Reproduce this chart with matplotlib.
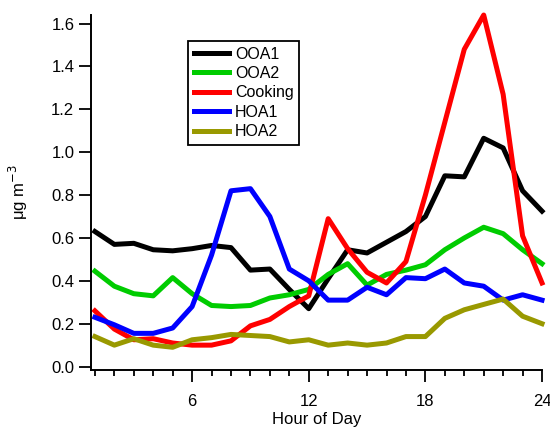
import numpy as np
import matplotlib.pyplot as plt
from matplotlib.ticker import MultipleLocator

plt.rcParams['font.family'] = ['Liberation Sans', 'DejaVu Sans']

hours = np.arange(1, 25)
ooa1 = [0.63, 0.57, 0.575, 0.545, 0.54, 0.55, 0.565, 0.555, 0.45, 0.455, 0.36, 0.27,
        0.41, 0.545, 0.53, 0.58, 0.63, 0.70, 0.89, 0.885, 1.065, 1.02, 0.82, 0.725]
ooa2 = [0.445, 0.375, 0.34, 0.33, 0.415, 0.34, 0.285, 0.28, 0.285, 0.32, 0.335, 0.36,
        0.43, 0.48, 0.38, 0.43, 0.45, 0.475, 0.545, 0.60, 0.65, 0.62, 0.545, 0.48]
cooking = [0.26, 0.175, 0.125, 0.13, 0.11, 0.10, 0.10, 0.12, 0.19, 0.22, 0.28, 0.33,
           0.69, 0.55, 0.44, 0.39, 0.49, 0.80, 1.14, 1.48, 1.64, 1.27, 0.61, 0.39]
hoa1 = [0.23, 0.195, 0.155, 0.155, 0.18, 0.28, 0.52, 0.82, 0.83, 0.70, 0.455, 0.40,
        0.31, 0.31, 0.37, 0.335, 0.415, 0.41, 0.455, 0.39, 0.375, 0.31, 0.335, 0.31]
hoa2 = [0.14, 0.10, 0.13, 0.10, 0.09, 0.125, 0.135, 0.15, 0.145, 0.14, 0.115, 0.125,
        0.10, 0.11, 0.10, 0.11, 0.14, 0.14, 0.225, 0.265, 0.29, 0.315, 0.235, 0.20]

names = ["OOA1", "OOA2", "Cooking", "HOA1", "HOA2"]
colors = ["black", "#00cc00", "red", "blue", "#999900"]

fig = plt.figure(figsize=(5.5, 4.29), dpi=100)
ax = fig.add_axes([0.1655, 0.138, 0.82, 0.827])

for y, n, c in zip([ooa1, ooa2, cooking, hoa1, hoa2], names, colors):
    ax.plot(hours, y, color=c, lw=3.6, label=n, clip_on=False)

ax.set_xlim(0.8, 24)
ax.set_ylim(-0.015, 1.64)
ax.xaxis.set_minor_locator(MultipleLocator(1))
ax.set_xticks([6, 12, 18, 24])
ax.set_yticks(np.arange(0, 1.61, 0.2))
ax.set_yticklabels(["%.1f" % v for v in np.arange(0, 1.61, 0.2)])
for s in ["top", "right"]:
    ax.spines[s].set_visible(False)
ax.spines["left"].set_linewidth(1.4)
ax.spines["bottom"].set_linewidth(1.4)
ax.tick_params(which="major", length=8.5, width=1.3, labelsize=12, direction="out")
ax.tick_params(which="minor", length=4.5, width=1.3, direction="out")
ax.tick_params(axis="x", pad=9)

ax.set_xlabel("Hour of Day", fontsize=12, labelpad=2)
ax.set_ylabel("μg m$^{-3}$", fontsize=12, labelpad=15)

leg = ax.legend(loc="upper left", bbox_to_anchor=(0.215, 0.927), fontsize=11.5,
                fancybox=False, framealpha=1, edgecolor="black", handlelength=2.2,
                borderpad=0.35, labelspacing=0.28, handletextpad=0.4, borderaxespad=0)
leg.get_frame().set_linewidth(1.3)

fig.savefig("out.png", dpi=100)
